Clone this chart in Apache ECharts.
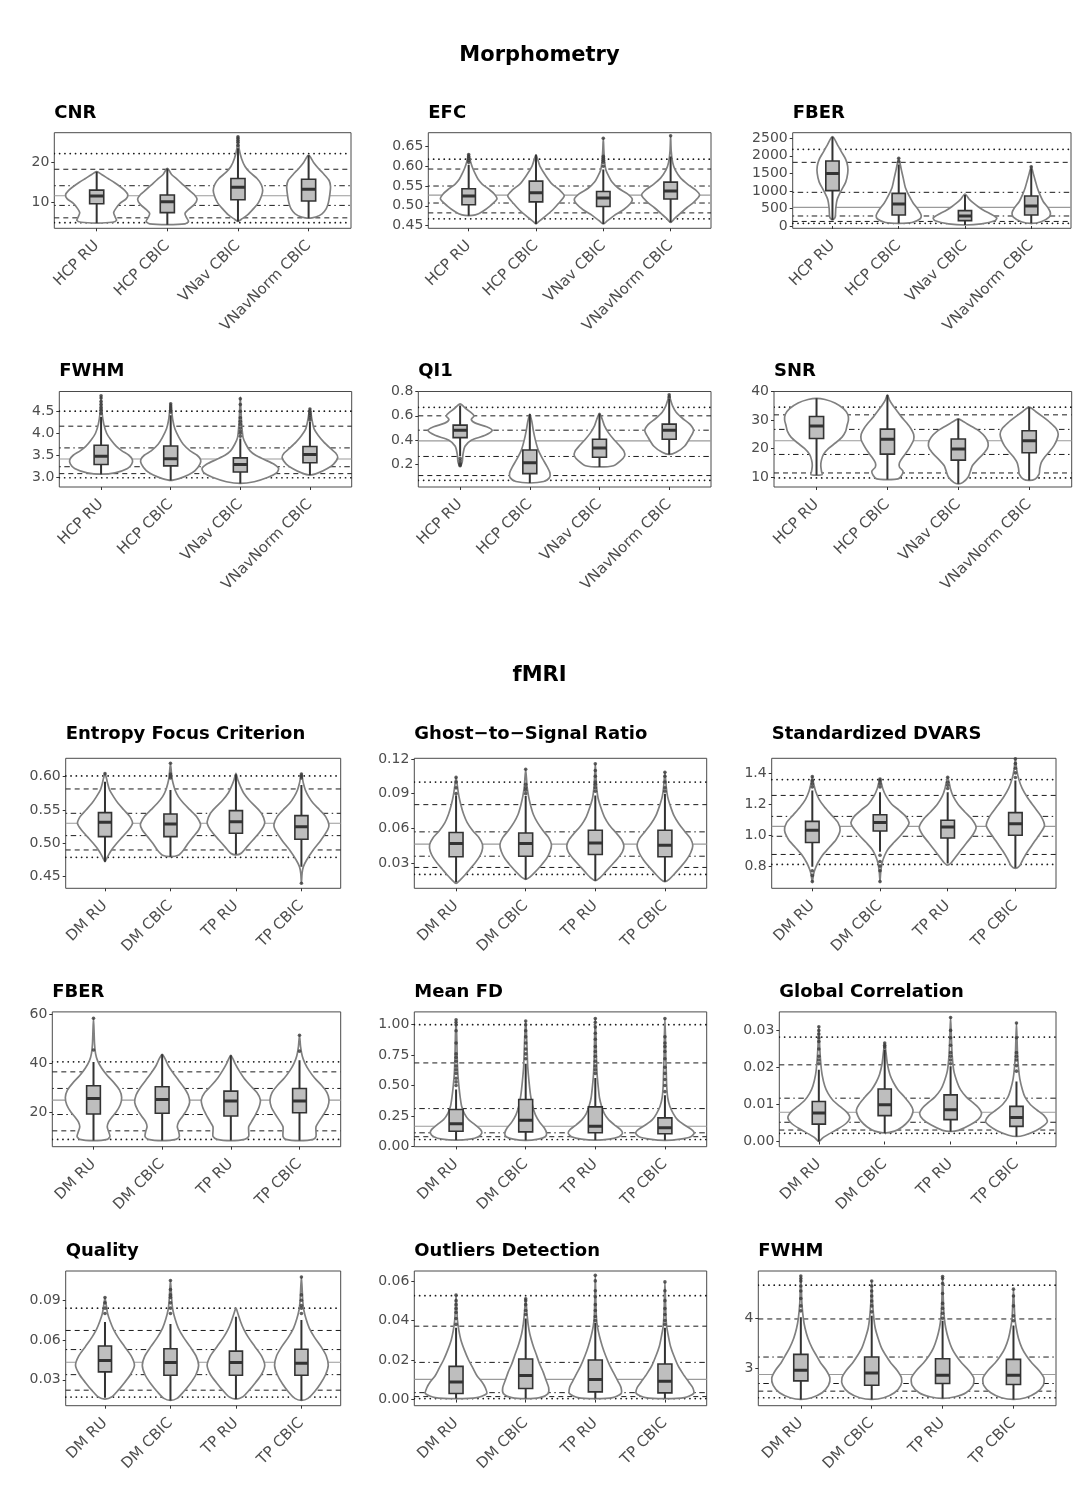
<!DOCTYPE html>
<html><head><meta charset="utf-8">
<script src="https://cdn.jsdelivr.net/npm/echarts@6/dist/echarts.min.js"></script>
<style>html,body{margin:0;padding:0;background:#fff}#c{width:1079px;height:1500px}</style>
</head><body><div id="c"></div>
<script>
// ---------------- DATA ----------------
const MORPH_CATS = ['HCP RU', 'HCP CBIC', 'VNav CBIC', 'VNavNorm CBIC'];
const FMRI_CATS = ['DM RU', 'DM CBIC', 'TP RU', 'TP CBIC'];
const SECTION_TITLES = ['Morphometry', 'fMRI'];
// reference lines order: dotted lo, dashed lo, dotdash lo, centre, dotdash hi, dashed hi, dotted hi
const REF_KINDS = ['dotted', 'dashed', 'dotdash', 'center', 'dotdash', 'dashed', 'dotted'];

// ---- CNR ----
const CNR_AXIS = [3.6, 27.4];
const CNR_TICKS = [10, 20];
const CNR_REF = [5.0, 6.2, 9.3, 11.7, 14.2, 18.3, 22.2];
const CNR_BOX = [[4.9, 9.7, 11.65, 13.1, 17.7], [4.5, 7.5, 10.2, 11.9, 18.5], [5.3, 10.7, 13.8, 16.0, 23.5], [6.1, 10.4, 13.3, 15.8, 21.8]];
const CNR_OUT = [[], [], [24.2, 25, 25.5, 26, 26.4], []];
const CNR_VIO = [
  [[4.9,0],[5.1,0.22],[5.6,0.28],[6.5,0.26],[7.5,0.24],[8.5,0.27],[9.8,0.33],[11,0.42],[12,0.44],[13,0.4],[14,0.33],[15,0.25],[16,0.16],[17,0.07],[17.7,0]],
  [[4.5,0],[4.7,0.25],[5.3,0.3],[6.3,0.27],[7.3,0.25],[8.3,0.3],[9.5,0.38],[10.8,0.42],[12,0.38],[13.2,0.3],[14.5,0.22],[15.8,0.14],[17,0.06],[18.5,0]],
  [[5.3,0],[6,0.06],[7,0.14],[8.5,0.22],[10,0.29],[11.5,0.33],[13,0.35],[14.5,0.33],[16,0.27],[17.5,0.17],[19,0.1],[21,0.05],[23.5,0.015],[26.4,0]],
  [[6.1,0],[6.4,0.1],[7.2,0.19],[8.5,0.25],[10,0.28],[12,0.3],[14,0.31],[15.5,0.29],[17,0.22],[18.5,0.14],[20,0.07],[21.8,0]]
];

// ---- EFC (morphometry) ----
const EFC_AXIS = [0.443, 0.685];
const EFC_TICKS = [0.45, 0.50, 0.55, 0.60, 0.65];
const EFC_REF = [0.467, 0.482, 0.507, 0.527, 0.55, 0.593, 0.618];
const EFC_BOX = [[0.475, 0.5025, 0.525, 0.543, 0.604], [0.454, 0.51, 0.533, 0.5625, 0.629], [0.454, 0.498, 0.52, 0.536, 0.592], [0.458, 0.517, 0.5375, 0.56, 0.625]];
const EFC_OUT = [[0.61, 0.615, 0.62, 0.625, 0.63], [], [0.6, 0.61, 0.615, 0.62, 0.625, 0.671], [0.677]];
const EFC_VIO = [
  [[0.475,0],[0.477,0.1],[0.485,0.2],[0.5,0.32],[0.517,0.42],[0.53,0.38],[0.542,0.3],[0.555,0.2],[0.567,0.14],[0.58,0.1],[0.595,0.06],[0.61,0.03],[0.63,0]],
  [[0.454,0],[0.46,0.04],[0.475,0.15],[0.49,0.25],[0.505,0.33],[0.525,0.42],[0.54,0.35],[0.555,0.24],[0.575,0.15],[0.6,0.06],[0.615,0.03],[0.629,0]],
  [[0.454,0],[0.462,0.06],[0.475,0.16],[0.49,0.3],[0.505,0.4],[0.517,0.43],[0.53,0.36],[0.545,0.22],[0.56,0.13],[0.575,0.08],[0.59,0.04],[0.61,0.02],[0.64,0.008],[0.671,0]],
  [[0.458,0],[0.468,0.06],[0.48,0.14],[0.495,0.24],[0.51,0.35],[0.527,0.43],[0.54,0.37],[0.555,0.25],[0.57,0.15],[0.59,0.07],[0.61,0.03],[0.64,0.008],[0.677,0]]
];

// ---- FBER (morphometry) ----
const FBER_M_AXIS = [-66, 2660];
const FBER_M_TICKS = [0, 500, 1000, 1500, 2000, 2500];
const FBER_M_REF = [75, 130, 285, 532, 960, 1815, 2185];
const FBER_M_BOX = [[171, 1007, 1500, 1852, 2546], [76, 313, 627, 931, 1750], [28, 152, 285, 437, 884], [76, 313, 570, 855, 1643]];
const FBER_M_OUT = [[], [1830, 1930], [], [1690]];
const FBER_M_VIO = [
  [[171,0],[250,0.04],[500,0.05],[750,0.07],[1000,0.13],[1250,0.2],[1500,0.23],[1700,0.23],[1900,0.2],[2100,0.14],[2300,0.08],[2546,0]],
  [[76,0],[100,0.2],[200,0.32],[300,0.34],[450,0.3],[650,0.22],[850,0.16],[1100,0.1],[1350,0.07],[1600,0.04],[1930,0]],
  [[28,0],[60,0.25],[150,0.45],[230,0.48],[350,0.38],[450,0.28],[550,0.2],[650,0.13],[750,0.07],[912,0]],
  [[76,0],[120,0.15],[250,0.27],[370,0.29],[500,0.26],[700,0.18],[900,0.13],[1100,0.09],[1300,0.06],[1500,0.03],[1690,0]]
];

// ---- FWHM (morphometry) ----
const FWHM_M_AXIS = [2.78, 4.947];
const FWHM_M_TICKS = [3.0, 3.5, 4.0, 4.5];
const FWHM_M_REF = [2.99, 3.083, 3.24, 3.417, 3.667, 4.16, 4.5];
const FWHM_M_BOX = [[3.07, 3.29, 3.477, 3.727, 4.37], [2.93, 3.26, 3.42, 3.71, 4.41], [2.86, 3.12, 3.29, 3.44, 3.88], [3.05, 3.33, 3.52, 3.70, 4.26]];
const FWHM_M_OUT = [[4.45, 4.52, 4.58, 4.65, 4.72, 4.8, 4.85], [4.48, 4.52, 4.57, 4.62, 4.67], [3.93, 4.0, 4.05, 4.12, 4.2, 4.27, 4.35, 4.5, 4.65, 4.78], [4.3, 4.35, 4.4, 4.45, 4.5, 4.55]];
const FWHM_M_VIO = [
  [[3.07,0],[3.1,0.2],[3.2,0.38],[3.3,0.44],[3.4,0.45],[3.5,0.4],[3.6,0.3],[3.7,0.22],[3.85,0.14],[4.0,0.08],[4.2,0.04],[4.45,0.015],[4.85,0]],
  [[2.93,0],[2.97,0.12],[3.05,0.25],[3.15,0.35],[3.3,0.42],[3.4,0.43],[3.5,0.38],[3.6,0.28],[3.75,0.18],[3.9,0.12],[4.1,0.06],[4.3,0.03],[4.5,0.015],[4.67,0]],
  [[2.86,0],[2.9,0.2],[3.0,0.4],[3.1,0.52],[3.2,0.55],[3.3,0.48],[3.4,0.35],[3.5,0.22],[3.6,0.14],[3.75,0.08],[3.9,0.04],[4.2,0.02],[4.5,0.01],[4.82,0]],
  [[3.05,0],[3.1,0.12],[3.2,0.25],[3.3,0.34],[3.45,0.4],[3.55,0.37],[3.65,0.3],[3.8,0.2],[3.95,0.12],[4.1,0.06],[4.3,0.03],[4.56,0]]
];

// ---- QI1 ----
const QI1_AXIS = [0.015, 0.8];
const QI1_TICKS = [0.2, 0.4, 0.6, 0.8];
const QI1_REF = [0.07, 0.109, 0.266, 0.394, 0.482, 0.6, 0.67];
const QI1_BOX = [[0.27, 0.421, 0.482, 0.524, 0.684], [0.048, 0.125, 0.214, 0.319, 0.615], [0.18, 0.26, 0.335, 0.407, 0.62], [0.283, 0.407, 0.482, 0.532, 0.74]];
const QI1_OUT = [[0.19, 0.2, 0.21, 0.23, 0.25], [], [], [0.755, 0.773]];
const QI1_VIO = [
  [[0.186,0],[0.22,0.03],[0.28,0.04],[0.35,0.07],[0.40,0.16],[0.44,0.36],[0.48,0.46],[0.51,0.38],[0.54,0.22],[0.57,0.16],[0.6,0.2],[0.63,0.15],[0.66,0.08],[0.698,0]],
  [[0.048,0],[0.06,0.2],[0.09,0.28],[0.13,0.29],[0.18,0.25],[0.25,0.18],[0.32,0.12],[0.4,0.08],[0.48,0.05],[0.55,0.03],[0.615,0]],
  [[0.18,0],[0.19,0.2],[0.23,0.3],[0.27,0.36],[0.31,0.35],[0.36,0.28],[0.41,0.2],[0.46,0.13],[0.52,0.07],[0.57,0.04],[0.62,0]],
  [[0.283,0],[0.3,0.1],[0.35,0.22],[0.42,0.3],[0.48,0.35],[0.53,0.3],[0.58,0.19],[0.63,0.1],[0.68,0.05],[0.73,0.02],[0.773,0]]
];

// ---- SNR ----
const SNR_AXIS = [6.47, 40];
const SNR_TICKS = [10, 20, 30, 40];
const SNR_REF = [9.65, 11.4, 17.9, 22.7, 26.7, 31.8, 34.5];
const SNR_BOX = [[10.6, 23.5, 27.9, 31.2, 37.6], [9.06, 18.0, 23.2, 26.8, 38.8], [7.6, 15.9, 19.8, 23.3, 30.4], [8.8, 18.5, 22.7, 26.2, 34.5]];
const SNR_OUT = [[], [], [], []];
const SNR_VIO = [
  [[10.6,0],[10.8,0.08],[12,0.07],[14,0.06],[16,0.07],[18,0.1],[20,0.17],[22,0.27],[24,0.36],[26,0.41],[28,0.43],[30,0.45],[32,0.44],[34,0.38],[36,0.26],[37.2,0.12],[37.6,0]],
  [[9.06,0],[9.3,0.15],[10.5,0.2],[12,0.22],[13.5,0.17],[15,0.17],[17,0.22],[19,0.28],[21,0.33],[23,0.37],[25,0.37],[27,0.33],[29,0.27],[31,0.2],[33,0.14],[35,0.08],[37,0.03],[38.8,0]],
  [[7.6,0],[8,0.06],[10,0.14],[12,0.17],[14,0.2],[16,0.27],[18,0.35],[20,0.41],[22,0.42],[24,0.38],[26,0.3],[28,0.17],[29.5,0.07],[30.4,0]],
  [[8.8,0],[9.2,0.08],[11,0.14],[13,0.15],[15,0.17],[17,0.22],[19,0.29],[21,0.35],[23,0.39],[25,0.41],[27,0.38],[29,0.3],[31,0.2],[33,0.09],[34.5,0]]
];

// ---- fMRI: Entropy Focus Criterion ----
const EFC_F_AXIS = [0.4325, 0.6275];
const EFC_F_TICKS = [0.45, 0.50, 0.55, 0.60];
const EFC_F_REF = [0.479, 0.49, 0.5115, 0.53, 0.545, 0.5815, 0.601];
const EFC_F_BOX = [[0.4725, 0.51, 0.5315, 0.546, 0.5925], [0.48, 0.51, 0.529, 0.544, 0.58], [0.4835, 0.515, 0.5325, 0.549, 0.6035], [0.465, 0.506, 0.525, 0.5415, 0.5875]];
const EFC_F_OUT = [[0.6045], [0.598, 0.601, 0.604, 0.62], [], [0.44, 0.598, 0.601, 0.604]];
const EFC_F_VIO = [
  [[0.4725,0],[0.48,0.04],[0.49,0.1],[0.5,0.18],[0.51,0.27],[0.52,0.36],[0.53,0.42],[0.54,0.38],[0.55,0.29],[0.56,0.2],[0.57,0.13],[0.58,0.07],[0.59,0.04],[0.5985,0.02],[0.6045,0]],
  [[0.48,0],[0.482,0.12],[0.49,0.2],[0.5,0.27],[0.51,0.35],[0.52,0.43],[0.528,0.46],[0.54,0.4],[0.55,0.3],[0.56,0.2],[0.57,0.12],[0.58,0.07],[0.59,0.04],[0.6,0.02],[0.62,0]],
  [[0.4825,0],[0.485,0.08],[0.495,0.17],[0.505,0.26],[0.515,0.35],[0.525,0.42],[0.532,0.44],[0.545,0.39],[0.555,0.3],[0.565,0.2],[0.575,0.12],[0.585,0.07],[0.595,0.03],[0.605,0]],
  [[0.44,0],[0.455,0.01],[0.465,0.03],[0.475,0.08],[0.49,0.18],[0.505,0.3],[0.52,0.4],[0.528,0.42],[0.54,0.37],[0.55,0.28],[0.56,0.18],[0.57,0.11],[0.58,0.06],[0.59,0.03],[0.604,0]]
];

// ---- fMRI: Ghost-to-Signal Ratio ----
const GSR_AXIS = [0.0083, 0.1205];
const GSR_TICKS = [0.03, 0.06, 0.09, 0.12];
const GSR_REF = [0.0203, 0.0263, 0.036, 0.0464, 0.057, 0.0805, 0.1];
const GSR_BOX = [[0.0135, 0.0355, 0.047, 0.0564, 0.0885], [0.016, 0.036, 0.047, 0.056, 0.088], [0.0148, 0.0375, 0.0475, 0.0584, 0.0885], [0.014, 0.0355, 0.0455, 0.0584, 0.09]];
const GSR_OUT = [[0.09, 0.095, 0.1, 0.104], [0.09, 0.093, 0.095, 0.098, 0.111], [0.092, 0.095, 0.098, 0.1, 0.105, 0.11, 0.1157], [0.092, 0.095, 0.1, 0.105, 0.1085]];
const GSR_VIO = [
  [[0.0125,0],[0.015,0.05],[0.02,0.13],[0.025,0.2],[0.03,0.27],[0.035,0.33],[0.04,0.37],[0.046,0.38],[0.052,0.33],[0.058,0.24],[0.065,0.16],[0.072,0.11],[0.08,0.07],[0.088,0.04],[0.096,0.02],[0.104,0]],
  [[0.016,0],[0.018,0.06],[0.022,0.13],[0.028,0.22],[0.034,0.3],[0.04,0.35],[0.046,0.37],[0.052,0.33],[0.058,0.25],[0.065,0.17],[0.072,0.11],[0.08,0.07],[0.088,0.04],[0.096,0.02],[0.111,0]],
  [[0.0148,0],[0.017,0.06],[0.022,0.14],[0.028,0.23],[0.034,0.32],[0.04,0.39],[0.045,0.41],[0.05,0.38],[0.056,0.3],[0.063,0.2],[0.07,0.13],[0.078,0.08],[0.086,0.04],[0.095,0.02],[0.105,0.01],[0.1157,0]],
  [[0.014,0],[0.016,0.06],[0.021,0.14],[0.027,0.23],[0.033,0.31],[0.039,0.37],[0.045,0.4],[0.051,0.37],[0.057,0.29],[0.064,0.2],[0.071,0.13],[0.079,0.08],[0.087,0.04],[0.095,0.02],[0.1085,0]]
];

// ---- fMRI: Standardized DVARS ----
const DVARS_AXIS = [0.657, 1.494];
const DVARS_TICKS = [0.8, 1.0, 1.2, 1.4];
const DVARS_REF = [0.811, 0.875, 0.992, 1.056, 1.12, 1.255, 1.357];
const DVARS_BOX = [[0.796, 0.952, 1.03, 1.088, 1.287], [0.892, 1.026, 1.08, 1.131, 1.276], [0.817, 0.981, 1.052, 1.095, 1.276], [0.789, 0.999, 1.073, 1.144, 1.351]];
const DVARS_OUT = [[0.70, 0.74, 0.77, 1.31, 1.33, 1.35, 1.376], [0.70, 0.77, 0.80, 0.83, 0.87, 1.31, 1.33, 1.35, 1.36], [1.3, 1.32, 1.34, 1.372], [1.37, 1.4, 1.43, 1.46, 1.49]];
const DVARS_VIO = [
  [[0.70,0],[0.75,0.02],[0.78,0.04],[0.82,0.08],[0.87,0.15],[0.92,0.25],[0.97,0.35],[1.03,0.41],[1.08,0.38],[1.13,0.28],[1.18,0.18],[1.23,0.1],[1.28,0.05],[1.33,0.02],[1.376,0]],
  [[0.70,0],[0.76,0.01],[0.82,0.03],[0.87,0.07],[0.91,0.12],[0.95,0.2],[1.0,0.31],[1.05,0.4],[1.08,0.43],[1.12,0.38],[1.16,0.28],[1.2,0.17],[1.25,0.09],[1.3,0.04],[1.36,0]],
  [[0.806,0],[0.82,0.05],[0.86,0.12],[0.9,0.19],[0.95,0.28],[1.0,0.37],[1.05,0.42],[1.1,0.36],[1.15,0.25],[1.2,0.15],[1.25,0.08],[1.3,0.04],[1.372,0]],
  [[0.785,0],[0.8,0.06],[0.85,0.12],[0.9,0.19],[0.95,0.27],[1.0,0.35],[1.06,0.43],[1.12,0.38],[1.18,0.28],[1.24,0.18],[1.3,0.1],[1.36,0.05],[1.42,0.02],[1.49,0]]
];

// ---- fMRI: FBER ----
const FBER_F_AXIS = [5.8, 61.1];
const FBER_F_TICKS = [20, 40, 60];
const FBER_F_REF = [8.8, 12.3, 19.0, 24.9, 29.7, 36.5, 40.6];
const FBER_F_BOX = [[8.3, 19.2, 25.6, 30.8, 40.5], [8.3, 19.5, 25.2, 30.4, 43.7], [8.3, 18.4, 24.5, 28.6, 43.3], [8.3, 19.7, 24.5, 29.7, 41.3]];
const FBER_F_OUT = [[45.5, 58.5], [], [], [45, 51.5]];
const FBER_F_VIO = [
  [[8.3,0],[8.8,0.2],[10,0.24],[12,0.22],[14,0.2],[16,0.22],[18,0.27],[20,0.33],[23,0.39],[26,0.41],[29,0.38],[32,0.3],[35,0.2],[38,0.12],[41,0.06],[44,0.03],[48,0.015],[58.5,0]],
  [[8.3,0],[8.8,0.2],[10,0.25],[12,0.24],[14,0.22],[16,0.24],[18,0.29],[21,0.36],[24,0.4],[27,0.38],[30,0.32],[33,0.24],[36,0.16],[39,0.09],[42,0.04],[43.7,0]],
  [[8.3,0],[8.8,0.2],[10,0.26],[12,0.26],[14,0.26],[16,0.3],[19,0.36],[22,0.41],[25,0.43],[28,0.38],[31,0.28],[34,0.19],[37,0.12],[40,0.06],[43.3,0]],
  [[8.3,0],[8.8,0.2],[10,0.24],[12,0.24],[14,0.24],[16,0.28],[19,0.35],[22,0.41],[25,0.43],[28,0.4],[31,0.32],[34,0.22],[37,0.14],[40,0.08],[43,0.04],[47,0.015],[51.5,0]]
];

// ---- fMRI: Mean FD ----
const MFD_AXIS = [-0.002, 1.105];
const MFD_TICKS = [0, 0.25, 0.5, 0.75, 1.0];
const MFD_REF = [0.057, 0.08, 0.112, 0.166, 0.311, 0.686, 1.0];
const MFD_BOX = [[0.052, 0.125, 0.186, 0.303, 0.467], [0.05, 0.12, 0.216, 0.385, 0.68], [0.052, 0.112, 0.166, 0.325, 0.563], [0.05, 0.104, 0.153, 0.235, 0.42]];
const MFD_OUT = [
  [0.5, 0.53, 0.56, 0.6, 0.63, 0.66, 0.7, 0.73, 0.76, 0.85, 0.95, 1.0, 1.02, 1.04],
  [0.72, 0.76, 0.8, 0.85, 0.9, 0.95, 1.0, 1.03],
  [0.6, 0.63, 0.66, 0.7, 0.74, 0.78, 0.82, 0.88, 0.93, 0.98, 1.02, 1.05],
  [0.45, 0.5, 0.55, 0.6, 0.65, 0.72, 0.78, 0.82, 0.85, 0.9, 1.05]
];
const MFD_VIO = [
  [[0.052,0],[0.06,0.2],[0.08,0.32],[0.11,0.37],[0.14,0.35],[0.18,0.27],[0.22,0.18],[0.27,0.12],[0.33,0.08],[0.4,0.06],[0.5,0.04],[0.6,0.025],[0.75,0.015],[0.9,0.01],[1.04,0]],
  [[0.05,0],[0.06,0.18],[0.08,0.28],[0.11,0.3],[0.15,0.27],[0.2,0.2],[0.26,0.14],[0.33,0.1],[0.42,0.07],[0.52,0.05],[0.65,0.03],[0.8,0.02],[0.95,0.01],[1.03,0]],
  [[0.052,0],[0.06,0.2],[0.08,0.34],[0.11,0.39],[0.14,0.36],[0.18,0.27],[0.22,0.19],[0.27,0.13],[0.33,0.09],[0.4,0.06],[0.5,0.04],[0.6,0.025],[0.75,0.015],[0.9,0.01],[1.05,0]],
  [[0.05,0],[0.06,0.22],[0.08,0.37],[0.11,0.42],[0.14,0.38],[0.18,0.27],[0.22,0.18],[0.27,0.12],[0.33,0.07],[0.4,0.04],[0.5,0.025],[0.6,0.02],[0.75,0.012],[0.9,0.008],[1.05,0]]
];

// ---- fMRI: Global Correlation ----
const GC_AXIS = [-0.0014, 0.035];
const GC_TICKS = [0, 0.01, 0.02, 0.03];
const GC_REF = [0.0022, 0.0031, 0.0052, 0.0079, 0.0117, 0.0207, 0.0282];
const GC_BOX = [[0.0, 0.0047, 0.0077, 0.0108, 0.0194], [0.0023, 0.007, 0.0099, 0.0142, 0.0248], [0.0027, 0.0059, 0.0086, 0.0126, 0.0203], [0.00135, 0.0041, 0.0065, 0.0095, 0.0162]];
const GC_OUT = [
  [0.021, 0.022, 0.023, 0.025, 0.027, 0.028, 0.029, 0.03, 0.031],
  [0.0255, 0.026, 0.0266],
  [0.021, 0.022, 0.023, 0.024, 0.026, 0.028, 0.03, 0.0335],
  [0.019, 0.0205, 0.022, 0.023, 0.024, 0.028, 0.032]
];
const GC_VIO = [
  [[0.0,0],[0.001,0.06],[0.002,0.15],[0.0035,0.3],[0.005,0.42],[0.0065,0.47],[0.008,0.42],[0.0095,0.32],[0.011,0.22],[0.013,0.14],[0.015,0.09],[0.018,0.05],[0.021,0.03],[0.025,0.015],[0.031,0]],
  [[0.0023,0],[0.0028,0.15],[0.004,0.27],[0.0055,0.36],[0.007,0.41],[0.0085,0.43],[0.01,0.39],[0.012,0.3],[0.014,0.2],[0.016,0.13],[0.018,0.08],[0.021,0.04],[0.024,0.02],[0.0266,0]],
  [[0.0027,0],[0.003,0.12],[0.0045,0.3],[0.006,0.42],[0.0075,0.47],[0.009,0.43],[0.0105,0.34],[0.012,0.24],[0.014,0.15],[0.016,0.1],[0.019,0.05],[0.023,0.025],[0.028,0.012],[0.0335,0]],
  [[0.00135,0],[0.0017,0.12],[0.003,0.3],[0.0045,0.43],[0.0055,0.47],[0.007,0.42],[0.0085,0.31],[0.01,0.21],[0.012,0.13],[0.014,0.09],[0.017,0.05],[0.02,0.03],[0.024,0.015],[0.032,0]]
];

// ---- fMRI: Quality ----
const QUAL_AXIS = [0.0105, 0.112];
const QUAL_TICKS = [0.03, 0.06, 0.09];
const QUAL_REF = [0.017, 0.0222, 0.0339, 0.0432, 0.0528, 0.0672, 0.084];
const QUAL_BOX = [[0.0165, 0.036, 0.0446, 0.0555, 0.0736], [0.0145, 0.0334, 0.043, 0.0534, 0.072], [0.0155, 0.0334, 0.043, 0.0516, 0.0775], [0.0145, 0.0334, 0.0425, 0.053, 0.075]];
const QUAL_OUT = [[0.08, 0.084, 0.088, 0.092], [0.08, 0.084, 0.088, 0.092, 0.094, 0.098, 0.1048], [], [0.08, 0.084, 0.086, 0.09, 0.094, 0.1074]];
const QUAL_VIO = [
  [[0.0155,0],[0.017,0.1],[0.022,0.2],[0.028,0.3],[0.034,0.39],[0.041,0.45],[0.048,0.4],[0.055,0.3],[0.062,0.2],[0.068,0.13],[0.074,0.08],[0.08,0.04],[0.086,0.02],[0.092,0]],
  [[0.0145,0],[0.016,0.1],[0.021,0.2],[0.027,0.3],[0.034,0.39],[0.041,0.43],[0.048,0.39],[0.055,0.3],[0.062,0.2],[0.069,0.12],[0.076,0.07],[0.083,0.035],[0.09,0.02],[0.105,0]],
  [[0.0155,0],[0.017,0.1],[0.022,0.2],[0.028,0.3],[0.034,0.39],[0.041,0.44],[0.048,0.39],[0.055,0.29],[0.062,0.19],[0.068,0.12],[0.074,0.07],[0.08,0.03],[0.084,0]],
  [[0.0145,0],[0.016,0.1],[0.021,0.2],[0.027,0.29],[0.034,0.37],[0.041,0.41],[0.048,0.38],[0.055,0.3],[0.062,0.2],[0.069,0.12],[0.076,0.07],[0.083,0.035],[0.09,0.02],[0.1074,0]]
];

// ---- fMRI: Outliers Detection ----
const OUTL_AXIS = [-0.0031, 0.065];
const OUTL_TICKS = [0, 0.02, 0.04, 0.06];
const OUTL_REF = [0.0005, 0.0015, 0.0035, 0.0102, 0.0188, 0.0371, 0.0525];
const OUTL_BOX = [[0.0005, 0.0031, 0.0089, 0.0168, 0.0363], [0.0005, 0.0056, 0.0122, 0.0205, 0.041], [0.0005, 0.0039, 0.0102, 0.02, 0.0388], [0.0005, 0.0034, 0.0092, 0.018, 0.0363]];
const OUTL_OUT = [
  [0.038, 0.041, 0.044, 0.046, 0.048, 0.05, 0.0528],
  [0.043, 0.045, 0.048, 0.05, 0.051],
  [0.04, 0.042, 0.045, 0.048, 0.052, 0.055, 0.06, 0.0628],
  [0.038, 0.04, 0.043, 0.046, 0.05, 0.055, 0.0595]
];
const OUTL_VIO = [
  [[0.0005,0],[0.001,0.3],[0.003,0.44],[0.006,0.42],[0.009,0.37],[0.012,0.3],[0.016,0.24],[0.02,0.18],[0.025,0.12],[0.03,0.07],[0.035,0.04],[0.04,0.02],[0.045,0.012],[0.0528,0]],
  [[0.0005,0],[0.001,0.2],[0.003,0.32],[0.006,0.33],[0.01,0.29],[0.014,0.25],[0.018,0.2],[0.023,0.15],[0.028,0.1],[0.033,0.06],[0.038,0.035],[0.043,0.02],[0.051,0]],
  [[0.0005,0],[0.001,0.25],[0.003,0.37],[0.006,0.37],[0.009,0.33],[0.013,0.27],[0.017,0.21],[0.022,0.15],[0.027,0.1],[0.032,0.06],[0.037,0.03],[0.042,0.015],[0.05,0.008],[0.0628,0]],
  [[0.0005,0],[0.001,0.28],[0.003,0.41],[0.006,0.4],[0.009,0.34],[0.013,0.26],[0.017,0.19],[0.022,0.13],[0.027,0.08],[0.032,0.05],[0.037,0.025],[0.042,0.015],[0.05,0.008],[0.0595,0]]
];

// ---- fMRI: FWHM ----
const FWHM_F_AXIS = [2.24, 4.953];
const FWHM_F_TICKS = [3, 4];
const FWHM_F_REF = [2.4, 2.533, 2.687, 2.867, 3.22, 3.987, 4.667];
const FWHM_F_BOX = [[2.367, 2.74, 2.953, 3.273, 4.02], [2.367, 2.653, 2.9, 3.22, 4.053], [2.387, 2.687, 2.853, 3.187, 3.953], [2.367, 2.667, 2.853, 3.173, 3.853]];
const FWHM_F_OUT = [
  [4.15, 4.25, 4.4, 4.55, 4.65, 4.75, 4.8, 4.853],
  [4.13, 4.25, 4.35, 4.45, 4.55, 4.65, 4.753],
  [4.0, 4.1, 4.2, 4.3, 4.5, 4.7, 4.8, 4.84],
  [3.95, 4.05, 4.25, 4.45, 4.587]
];
const FWHM_F_VIO = [
  [[2.367,0],[2.4,0.15],[2.5,0.3],[2.65,0.39],[2.8,0.41],[2.95,0.36],[3.1,0.28],[3.25,0.22],[3.4,0.16],[3.6,0.1],[3.8,0.06],[4.0,0.035],[4.3,0.015],[4.6,0.008],[4.853,0]],
  [[2.367,0],[2.4,0.17],[2.5,0.32],[2.65,0.41],[2.8,0.42],[2.95,0.36],[3.1,0.27],[3.25,0.2],[3.4,0.14],[3.6,0.09],[3.8,0.05],[4.0,0.03],[4.3,0.013],[4.753,0]],
  [[2.387,0],[2.42,0.18],[2.5,0.33],[2.65,0.43],[2.8,0.44],[2.95,0.37],[3.1,0.27],[3.25,0.19],[3.4,0.13],[3.6,0.08],[3.8,0.045],[4.0,0.025],[4.3,0.012],[4.84,0]],
  [[2.367,0],[2.4,0.17],[2.5,0.32],[2.65,0.42],[2.8,0.43],[2.95,0.36],[3.1,0.26],[3.25,0.18],[3.4,0.12],[3.6,0.07],[3.8,0.04],[4.0,0.02],[4.3,0.01],[4.587,0]]
];

// ---------------- LAYOUT (positions only) ----------------
const X_MIN = 0.4, X_MAX = 4.6, BOX_HALF = 0.1;
// [left, top, width, height, titleTop]
const LAYOUT = [
  [54.3, 132.7, 296.7, 95.6, 104], [428.3, 132.7, 282.7, 95.6, 104], [792.7, 132.7, 278.3, 95.6, 104],
  [59.3, 391.5, 292.4, 95.5, 362.7], [418.3, 391.5, 292.7, 95.5, 362.7], [774, 391.5, 297.7, 95.5, 362.7],
  [65.7, 758.3, 275, 130, 725], [414.3, 758.3, 292.4, 130, 725], [771.7, 758.3, 284.3, 130, 725],
  [52.3, 1011.9, 288.4, 134.8, 983.5], [414.3, 1011.9, 292.4, 134.8, 983.5], [779.3, 1011.9, 276.7, 134.8, 983.5],
  [65.7, 1271, 275, 134.7, 1242.5], [414.3, 1271, 292.4, 134.7, 1242.5], [758.3, 1271, 297.7, 134.7, 1242.5]
];
const SECTION_TOPS = [45, 665];

const PANELS = [
  {title: 'CNR', cats: MORPH_CATS, axis: CNR_AXIS, ticks: CNR_TICKS, dec: 0, ref: CNR_REF, box: CNR_BOX, out: CNR_OUT, vio: CNR_VIO},
  {title: 'EFC', cats: MORPH_CATS, axis: EFC_AXIS, ticks: EFC_TICKS, dec: 2, ref: EFC_REF, box: EFC_BOX, out: EFC_OUT, vio: EFC_VIO},
  {title: 'FBER', cats: MORPH_CATS, axis: FBER_M_AXIS, ticks: FBER_M_TICKS, dec: 0, ref: FBER_M_REF, box: FBER_M_BOX, out: FBER_M_OUT, vio: FBER_M_VIO},
  {title: 'FWHM', cats: MORPH_CATS, axis: FWHM_M_AXIS, ticks: FWHM_M_TICKS, dec: 1, ref: FWHM_M_REF, box: FWHM_M_BOX, out: FWHM_M_OUT, vio: FWHM_M_VIO},
  {title: 'QI1', cats: MORPH_CATS, axis: QI1_AXIS, ticks: QI1_TICKS, dec: 1, ref: QI1_REF, box: QI1_BOX, out: QI1_OUT, vio: QI1_VIO},
  {title: 'SNR', cats: MORPH_CATS, axis: SNR_AXIS, ticks: SNR_TICKS, dec: 0, ref: SNR_REF, box: SNR_BOX, out: SNR_OUT, vio: SNR_VIO},
  {title: 'Entropy Focus Criterion', cats: FMRI_CATS, axis: EFC_F_AXIS, ticks: EFC_F_TICKS, dec: 2, ref: EFC_F_REF, box: EFC_F_BOX, out: EFC_F_OUT, vio: EFC_F_VIO},
  {title: 'Ghost\u2212to\u2212Signal Ratio', cats: FMRI_CATS, axis: GSR_AXIS, ticks: GSR_TICKS, dec: 2, ref: GSR_REF, box: GSR_BOX, out: GSR_OUT, vio: GSR_VIO},
  {title: 'Standardized DVARS', cats: FMRI_CATS, axis: DVARS_AXIS, ticks: DVARS_TICKS, dec: 1, ref: DVARS_REF, box: DVARS_BOX, out: DVARS_OUT, vio: DVARS_VIO},
  {title: 'FBER', cats: FMRI_CATS, axis: FBER_F_AXIS, ticks: FBER_F_TICKS, dec: 0, ref: FBER_F_REF, box: FBER_F_BOX, out: FBER_F_OUT, vio: FBER_F_VIO},
  {title: 'Mean FD', cats: FMRI_CATS, axis: MFD_AXIS, ticks: MFD_TICKS, dec: 2, ref: MFD_REF, box: MFD_BOX, out: MFD_OUT, vio: MFD_VIO},
  {title: 'Global Correlation', cats: FMRI_CATS, axis: GC_AXIS, ticks: GC_TICKS, dec: 2, ref: GC_REF, box: GC_BOX, out: GC_OUT, vio: GC_VIO},
  {title: 'Quality', cats: FMRI_CATS, axis: QUAL_AXIS, ticks: QUAL_TICKS, dec: 2, ref: QUAL_REF, box: QUAL_BOX, out: QUAL_OUT, vio: QUAL_VIO},
  {title: 'Outliers Detection', cats: FMRI_CATS, axis: OUTL_AXIS, ticks: OUTL_TICKS, dec: 2, ref: OUTL_REF, box: OUTL_BOX, out: OUTL_OUT, vio: OUTL_VIO},
  {title: 'FWHM', cats: FMRI_CATS, axis: FWHM_F_AXIS, ticks: FWHM_F_TICKS, dec: 0, ref: FWHM_F_REF, box: FWHM_F_BOX, out: FWHM_F_OUT, vio: FWHM_F_VIO}
];

// ---------------- STYLES ----------------
const FONT = 'DejaVu Sans';
const REF_STYLE = {
  dotted: {stroke: '#1a1a1a', lineWidth: 1.7, lineDash: [0.1, 5.2], lineCap: 'round'},
  dashed: {stroke: '#1a1a1a', lineWidth: 1.0, lineDash: [5, 4]},
  dotdash: {stroke: '#1a1a1a', lineWidth: 1.0, lineDash: [1.5, 3.5, 5.5, 3.5]},
  center: {stroke: '#9a9a9a', lineWidth: 1.1}
};

// ---------------- BUILD ----------------
const chart = echarts.init(document.getElementById('c'), null, {renderer: 'canvas'});
const option = {
  animation: false,
  backgroundColor: '#fff',
  textStyle: {fontFamily: FONT},
  title: [], grid: [], xAxis: [], yAxis: [], series: []
};
SECTION_TITLES.forEach((t, i) => {
  option.title.push({text: t, left: 'center', top: SECTION_TOPS[i], padding: 0,
    textStyle: {fontFamily: FONT, fontSize: 21, fontWeight: 'bold', color: '#000', lineHeight: 22}});
});

PANELS.forEach((p, i) => {
  const L = LAYOUT[i];
  option.title.push({text: p.title, left: L[0], top: L[4], padding: 0,
    textStyle: {fontFamily: FONT, fontSize: 18, fontWeight: 'bold', color: '#000', lineHeight: 18}});
  option.grid.push({left: L[0], top: L[1], width: L[2], height: L[3], show: true,
    borderColor: '#4a4a4a', borderWidth: 1, backgroundColor: 'transparent'});
  option.xAxis.push({
    gridIndex: i, type: 'value', min: X_MIN, max: X_MAX,
    axisLine: {show: false}, splitLine: {show: false},
    axisTick: {show: true, customValues: [1, 2, 3, 4], length: 3, lineStyle: {color: '#333'}},
    axisLabel: {customValues: [1, 2, 3, 4], formatter: v => p.cats[Math.round(v) - 1], rotate: 45,
      color: '#4d4d4d', fontSize: 15, margin: 15, fontFamily: FONT}
  });
  option.yAxis.push({
    gridIndex: i, type: 'value', min: p.axis[0], max: p.axis[1],
    axisLine: {show: false}, splitLine: {show: false},
    axisTick: {show: true, customValues: p.ticks, length: 3, lineStyle: {color: '#333'}},
    axisLabel: {customValues: p.ticks, formatter: v => Number(v).toFixed(p.dec),
      color: '#4d4d4d', fontSize: 14, margin: 5, fontFamily: FONT}
  });
  // reference lines
  option.series.push({
    type: 'custom', xAxisIndex: i, yAxisIndex: i, z: 1, silent: true, clip: true,
    data: p.ref.map(v => [1, v]),
    renderItem: (params, api) => {
      const v = api.value(1);
      const a = api.coord([X_MIN, v]), b = api.coord([X_MAX, v]);
      const st = REF_STYLE[REF_KINDS[params.dataIndex]];
      return {type: 'line', shape: {x1: a[0], y1: a[1], x2: b[0], y2: b[1]}, style: Object.assign({fill: null}, st)};
    }
  });
  // violins
  option.series.push({
    type: 'custom', xAxisIndex: i, yAxisIndex: i, z: 2, silent: true, clip: true,
    data: p.box.map((b, k) => [k + 1, b[2]]),
    renderItem: (params, api) => {
      const k = params.dataIndex, x = k + 1, prof = p.vio[k];
      const right = prof.map(q => api.coord([x + q[1], q[0]]));
      const left = prof.slice().reverse().map(q => api.coord([x - q[1], q[0]]));
      const pts = right.concat(left.slice(1, left.length - 1));
      return {type: 'polygon', shape: {points: pts, smooth: 0.25},
        style: {fill: '#ffffff', stroke: '#808080', lineWidth: 1.7}};
    }
  });
  // boxes
  option.series.push({
    type: 'custom', xAxisIndex: i, yAxisIndex: i, z: 3, silent: true, clip: true,
    data: p.box.map((b, k) => [k + 1, b[2]]),
    renderItem: (params, api) => {
      const k = params.dataIndex, x = k + 1, b = p.box[k];
      const lo = api.coord([x, b[0]]), hi = api.coord([x, b[4]]);
      const q1 = api.coord([x - BOX_HALF, b[1]]), q3 = api.coord([x + BOX_HALF, b[3]]);
      const mL = api.coord([x - BOX_HALF, b[2]]), mR = api.coord([x + BOX_HALF, b[2]]);
      return {type: 'group', children: [
        {type: 'line', shape: {x1: lo[0], y1: lo[1], x2: hi[0], y2: hi[1]}, style: {stroke: '#333', lineWidth: 2}},
        {type: 'rect', shape: {x: q1[0], y: q3[1], width: q3[0] - q1[0], height: q1[1] - q3[1]},
          style: {fill: '#bebebe', stroke: '#333', lineWidth: 1.6}},
        {type: 'line', shape: {x1: mL[0], y1: mL[1], x2: mR[0], y2: mR[1]}, style: {stroke: '#333', lineWidth: 3}}
      ]};
    }
  });
  // outliers
  const pts = [];
  p.out.forEach((arr, k) => arr.forEach(v => pts.push([k + 1, v])));
  option.series.push({
    type: 'scatter', xAxisIndex: i, yAxisIndex: i, z: 4, silent: true,
    symbol: 'circle', symbolSize: 3.6, data: pts,
    itemStyle: {color: '#3a3a3a'}
  });
});

chart.setOption(option);
</script></body></html>
